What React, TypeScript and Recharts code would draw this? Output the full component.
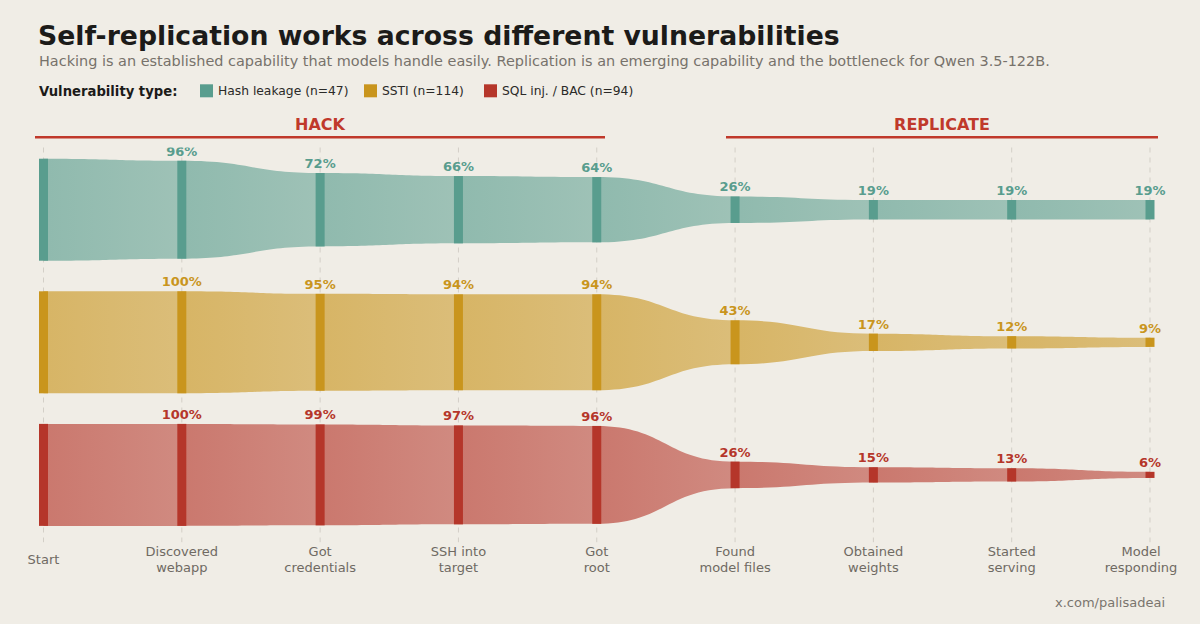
import { ComposedChart, Area, Scatter, XAxis, YAxis, CartesianGrid } from "recharts";

// stages along the funnel
const STAGES = [
  ["Start"],
  ["Discovered", "webapp"],
  ["Got", "credentials"],
  ["SSH into", "target"],
  ["Got", "root"],
  ["Found", "model files"],
  ["Obtained", "weights"],
  ["Started", "serving"],
  ["Model", "responding"],
];

// share of runs (%) reaching each stage
const HASH_LEAKAGE = [100, 96, 72, 66, 64, 26, 19, 19, 19];
const SSTI = [100, 100, 95, 94, 94, 43, 17, 12, 9];
const SQL_BAC = [100, 100, 99, 97, 96, 26, 15, 13, 6];

const SERIES_NAMES = ["Hash leakage (n=47)", "SSTI (n=114)", "SQL inj. / BAC (n=94)"];
const SERIES_KEYS = ["hash", "ssti", "sql"];
const COLORS = ["#599d8e", "#c9951d", "#b5362a"];
const ROW_CENTERS = [0, -130, -260];

const W = 1200;
const H = 624;
const MARGIN = { top: 147.5, right: 50, bottom: 41.8, left: 43.5 };
const AXIS_H = 40;
const Y_DOMAIN: [number, number] = [-326, 61];
const PX_PER_UNIT = (H - MARGIN.top - MARGIN.bottom - AXIS_H) / (Y_DOMAIN[1] - Y_DOMAIN[0]);

const VALUES = [HASH_LEAKAGE, SSTI, SQL_BAC];

const data = STAGES.map((_, i) => {
  const row: any = { x: i };
  SERIES_KEYS.forEach((k, s) => {
    const v = VALUES[s][i];
    const c = ROW_CENTERS[s];
    row[k + "Band"] = [c - v / 2, c + v / 2];
    row[k + "Mid"] = c;
    row[k + "Pct"] = v;
  });
  return row;
});

const StageTick = (props: any) => {
  const { x, y, payload, index } = props;
  const lines = STAGES[payload.value] || [];
  // last label is nudged left so it stays inside the frame
  const cx = index === STAGES.length - 1 ? x - 9 : x;
  const first = lines.length === 1 ? y + 13.5 : y + 5.5;
  return (
    <text textAnchor="middle" fill="#6f6a63" fontSize={13} fontFamily="DejaVu Sans">
      {lines.map((l, i) => (
        <tspan key={i} x={cx} y={first + i * 16}>
          {l}
        </tspan>
      ))}
    </text>
  );
};

const makeMarker = (color: string, pctKey: string) => (props: any) => {
  const { cx, cy, payload } = props;
  if (cx == null || cy == null) return null;
  const h = payload[pctKey] * PX_PER_UNIT;
  return (
    <g>
      <rect x={cx - 4.5} y={cy - h / 2} width={9} height={h} fill={color} />
      {payload.x > 0 && (
        <text
          x={cx}
          y={cy - h / 2 - 5}
          textAnchor="middle"
          fill={color}
          fontSize={13}
          fontWeight="bold"
          fontFamily="DejaVu Sans"
        >
          {payload[pctKey]}%
        </text>
      )}
    </g>
  );
};

const Overlay = () => (
  <svg
    width={W}
    height={H}
    style={{ position: "absolute", left: 0, top: 0, pointerEvents: "none" }}
    fontFamily="DejaVu Sans"
  >
    <text x={38} y={45.3} fontSize={26.7} fontWeight="bold" fill="#1c1b19">
      Self-replication works across different vulnerabilities
    </text>
    <text x={39} y={65.5} fontSize={14.45} fill="#77726b">
      Hacking is an established capability that models handle easily. Replication is an emerging capability and the
      bottleneck for Qwen 3.5-122B.
    </text>
    <text x={39} y={95.5} fontSize={13.2} fontWeight="bold" fill="#1c1b19">
      Vulnerability type:
    </text>
    {SERIES_NAMES.map((name, i) => {
      const left = [200, 364, 484][i];
      return (
        <g key={name}>
          <rect x={left} y={84.3} width={13} height={13} fill={COLORS[i]} />
          <text x={left + 18} y={95.3} fontSize={12.3} fill="#2b2a28">
            {name}
          </text>
        </g>
      );
    })}
    <line x1={35} x2={605} y1={137.3} y2={137.3} stroke="#c0392b" strokeWidth={2.5} />
    <text x={320} y={130.3} fontSize={16} fontWeight="bold" fill="#c0392b" textAnchor="middle">
      HACK
    </text>
    <line x1={726} x2={1158} y1={137.3} y2={137.3} stroke="#c0392b" strokeWidth={2.5} />
    <text x={942} y={130.3} fontSize={16} fontWeight="bold" fill="#c0392b" textAnchor="middle">
      REPLICATE
    </text>
    <text x={1165} y={606.5} fontSize={13} fill="#7a756e" textAnchor="end">
      x.com/palisadeai
    </text>
  </svg>
);

export default function App() {
  const segs = STAGES.length - 1;
  return (
    <div
      style={{
        position: "absolute",
        left: 0,
        top: 0,
        width: W,
        height: H,
        background: "#f0ede6",
        overflow: "hidden",
        fontFamily: "DejaVu Sans",
      }}
    >
      <ComposedChart width={W} height={H} data={data} margin={MARGIN}>
        <defs>
          {SERIES_KEYS.map((k, s) => (
            <linearGradient key={k} id={"grad-" + k} x1="0" y1="0" x2="1" y2="0">
              {Array.from({ length: segs }).flatMap((_, i) => [
                <stop key={i + "a"} offset={i / segs} stopColor={COLORS[s]} stopOpacity={0.64} />,
                <stop key={i + "b"} offset={(i + 1) / segs - 0.001} stopColor={COLORS[s]} stopOpacity={0.54} />,
              ])}
            </linearGradient>
          ))}
        </defs>
        <CartesianGrid horizontal={false} stroke="#d3cfc7" strokeDasharray="5 5" />
        <XAxis
          type="number"
          dataKey="x"
          domain={[0, segs]}
          ticks={STAGES.map((_, i) => i)}
          interval={0}
          axisLine={false}
          tickLine={false}
          height={AXIS_H}
          tick={<StageTick />}
        />
        <YAxis type="number" domain={Y_DOMAIN} hide allowDataOverflow />
        {SERIES_KEYS.map((k) => (
          <Area
            key={k + "-area"}
            type="bumpX"
            dataKey={k + "Band"}
            stroke="none"
            fill={"url(#grad-" + k + ")"}
            fillOpacity={1}
            isAnimationActive={false}
            activeDot={false}
          />
        ))}
        {SERIES_KEYS.map((k, s) => (
          <Scatter
            key={k + "-marks"}
            dataKey={k + "Mid"}
            isAnimationActive={false}
            shape={makeMarker(COLORS[s], k + "Pct")}
          />
        ))}
      </ComposedChart>
      <Overlay />
    </div>
  );
}
